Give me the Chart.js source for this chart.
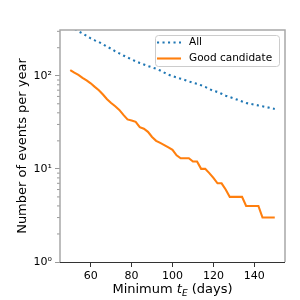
<!DOCTYPE html>
<html>
<head>
<meta charset="utf-8">
<script src="https://cdn.jsdelivr.net/npm/chart.js@4/dist/chart.umd.min.js"></script>
<style>
    html, body { margin: 0; padding: 0; background: #fff; }
    canvas { display: block; }
</style>
</head>
<body>
<canvas id="events-chart" width="300" height="300"></canvas>
<script>
// minimum event timescale (days)
const minDays = [50, 52, 54, 56, 58, 60, 62, 64, 66, 68, 70, 72, 74, 76, 78, 80, 82, 84, 86, 88,
    90, 92, 94, 96, 98, 100, 102, 104, 106, 108, 110, 112, 114, 116, 118, 120, 122, 124, 126, 128,
    130, 132, 134, 136, 138, 140, 142, 144, 146, 148, 150];

// events per year, all
const allEvents = [340, 320, 300, 285, 268, 252, 240, 230, 218, 205, 195, 183, 174, 165, 157, 150, 143, 137, 132, 127,
    123, 119, 114, 108, 103, 99, 96, 93, 90, 87, 84, 82, 79, 76, 72, 69, 67, 64, 61, 59,
    57, 55, 53, 51, 50, 49, 48, 47, 46, 45, 44];

// events per year, good candidates
const goodCandidate = [115, 108, 102, 95, 89, 83, 76, 70, 63, 56, 51, 47, 43, 38, 34, 33, 32, 28, 27, 25,
    22, 20, 19, 18, 17, 16, 14, 13, 13, 13, 12, 12, 10, 10, 9, 8, 7, 7, 6, 5,
    5, 5, 5, 4, 4, 4, 4, 3, 3, 3, 3];

const xTicks = [60, 80, 100, 120, 140];
const yTicks = [1, 10, 100];
const yMinorTicks = [2, 3, 4, 5, 6, 7, 8, 9, 20, 30, 40, 50, 60, 70, 80, 90, 200, 300];
const supers = { 1: "10\u2070", 10: "10\u00b9", 100: "10\u00b2" };

const font = "'DejaVu Sans', sans-serif";

function toPoints(ys) {
    return minDays.map((d, i) => ({ x: d, y: ys[i] }));
}

// spines, minor ticks, axis titles and legend, drawn the matplotlib way
const mplExtras = {
    id: "mplExtras",
    afterDraw(chart) {
        let ctx = chart.ctx;
        let a = chart.chartArea;
        let ys = chart.scales.y;
        ctx.save();

        // minor y ticks
        ctx.strokeStyle = "#999";
        ctx.lineWidth = 1;
        yMinorTicks.forEach(v => {
            let py = ys.getPixelForValue(v);
            if (py < a.top) return;
            ctx.beginPath();
            ctx.moveTo(a.left - 3, py);
            ctx.lineTo(a.left, py);
            ctx.stroke();
        });

        // spines
        ctx.strokeStyle = "#a8a8a8";
        ctx.lineWidth = 1.5;
        ctx.beginPath();
        ctx.moveTo(a.left, a.bottom);
        ctx.lineTo(a.left, a.top);
        ctx.lineTo(a.right, a.top);
        ctx.lineTo(a.right, a.bottom);
        ctx.stroke();
        ctx.strokeStyle = "#333";
        ctx.lineWidth = 1;
        ctx.beginPath();
        ctx.moveTo(a.left, a.bottom + 0.5);
        ctx.lineTo(a.right, a.bottom + 0.5);
        ctx.stroke();

        // x title: Minimum t_E (days)
        ctx.fillStyle = "#000";
        ctx.textBaseline = "alphabetic";
        ctx.textAlign = "left";
        let parts = [
            { t: "Minimum ", f: "13px " + font, dy: 0 },
            { t: "t", f: "italic 13px " + font, dy: 0 },
            { t: "E", f: "italic 9px " + font, dy: 3 },
            { t: " (days)", f: "13px " + font, dy: 0 }
        ];
        let total = 0;
        parts.forEach(p => { ctx.font = p.f; p.w = ctx.measureText(p.t).width; total += p.w; });
        let x = (a.left + a.right) / 2 - total / 2;
        parts.forEach(p => {
            ctx.font = p.f;
            ctx.fillText(p.t, x, 293 + p.dy);
            x += p.w;
        });

        // y title
        ctx.save();
        ctx.translate(26, (a.top + a.bottom) / 2);
        ctx.rotate(-Math.PI / 2);
        ctx.font = "13px " + font;
        ctx.textAlign = "center";
        ctx.fillText("Number of events per year", 0, 0);
        ctx.restore();

        // legend
        ctx.fillStyle = "rgba(255,255,255,0.8)";
        ctx.strokeStyle = "#ccc";
        ctx.lineWidth = 1;
        ctx.beginPath();
        ctx.roundRect(155.5, 35.5, 124, 31, 3);
        ctx.fill();
        ctx.stroke();
        chart.data.datasets.forEach((ds, i) => {
            let ly = 42.5 + i * 16;
            ctx.setLineDash(ds.borderDash || []);
            ctx.strokeStyle = ds.borderColor;
            ctx.lineWidth = ds.borderWidth;
            ctx.lineCap = "butt";
            ctx.beginPath();
            ctx.moveTo(157, ly);
            ctx.lineTo(181, ly);
            ctx.stroke();
            ctx.setLineDash([]);
            ctx.fillStyle = "#000";
            ctx.font = "10.5px " + font;
            ctx.textBaseline = "middle";
            ctx.fillText(ds.label, 189, ly);
        });

        ctx.restore();
    }
};

let ctx = document.getElementById("events-chart").getContext("2d");
let chartInstance = new Chart(ctx, {
    type: "line",
    data: {
        datasets: [
            {
                label: "All",
                data: toPoints(allEvents),
                borderColor: "#1f77b4",
                borderWidth: 2.1,
                borderDash: [2.1, 3.4],
                borderCapStyle: "butt",
                pointRadius: 0,
                tension: 0,
                clip: 0
            },
            {
                label: "Good candidate",
                data: toPoints(goodCandidate),
                borderColor: "#ff7f0e",
                borderWidth: 2.1,
                pointRadius: 0,
                tension: 0,
                clip: 0
            }
        ]
    },
    options: {
        responsive: false,
        animation: false,
        devicePixelRatio: 1,
        layout: { padding: { left: 0, right: 15, top: 30, bottom: 0 } },
        plugins: {
            legend: { display: false },
            tooltip: { enabled: false }
        },
        scales: {
            x: {
                type: "linear",
                min: 45,
                max: 155,
                afterBuildTicks: scale => { scale.ticks = xTicks.map(v => ({ value: v })); },
                afterFit: scale => { scale.height = 38; },
                border: { display: false },
                grid: {
                    display: true,
                    drawOnChartArea: false,
                    drawTicks: true,
                    tickLength: 5,
                    tickColor: "#333"
                },
                ticks: {
                    autoSkip: false,
                    maxRotation: 0,
                    padding: 3,
                    color: "#000",
                    font: { family: font, size: 11 }
                }
            },
            y: {
                type: "logarithmic",
                min: 1,
                max: 310,
                afterBuildTicks: scale => { scale.ticks = yTicks.map(v => ({ value: v })); },
                afterFit: scale => { scale.width = 60; },
                border: { display: false },
                grid: {
                    display: true,
                    drawOnChartArea: false,
                    drawTicks: true,
                    tickLength: 5,
                    tickColor: "#999"
                },
                ticks: {
                    autoSkip: false,
                    padding: 3,
                    color: "#000",
                    font: { family: font, size: 11 },
                    callback: value => supers[value] || ""
                }
            }
        }
    },
    plugins: [mplExtras]
});
</script>
</body>
</html>
